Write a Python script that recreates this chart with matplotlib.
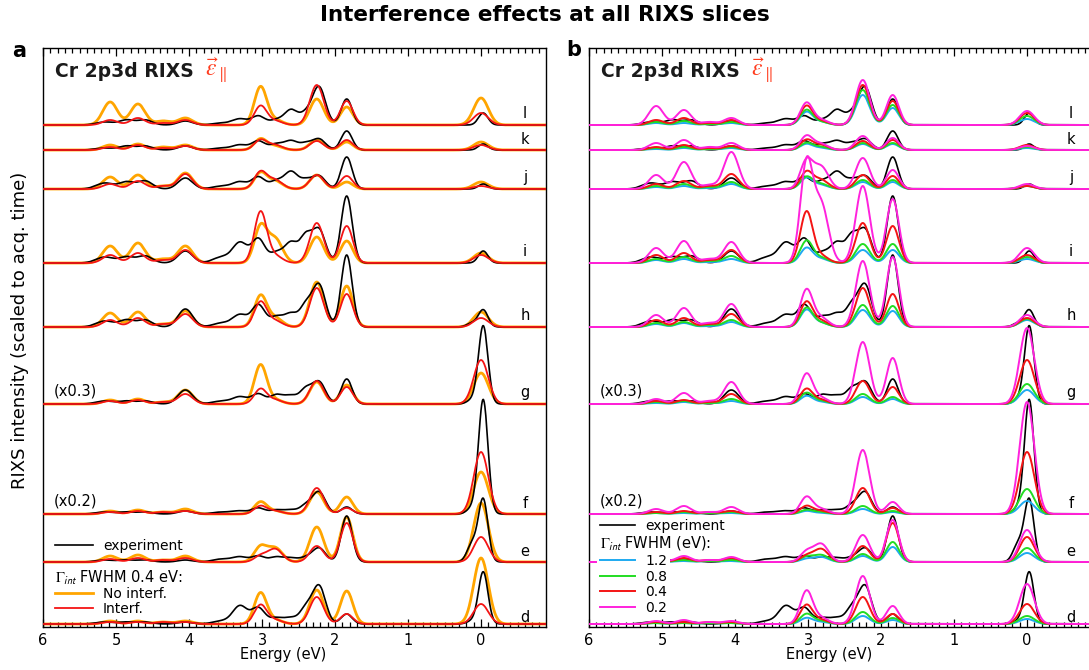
import numpy as np
import matplotlib
matplotlib.use('Agg')
import matplotlib.pyplot as plt
from matplotlib.lines import Line2D
from matplotlib.ticker import MultipleLocator

plt.rcParams['font.family'] = ['DejaVu Sans']
plt.rcParams['mathtext.fontset'] = 'stix'

# ---------------- data (intensities in plotted units) -------------
slices = ['l', 'k', 'j', 'i', 'h', 'g', 'f', 'e', 'd']
offsets = [502, 477, 438, 364, 300, 223, 113, 65, 3]
scale_notes = {'g': '(x0.3)', 'f': '(x0.2)'}

# model peaks (energy loss, eV) and widths
model_E = [5.08, 4.70, 4.35, 4.05, 3.02, 2.82, 2.25, 1.84, 0.00]
model_sigma = [0.10, 0.10, 0.10, 0.10, 0.085, 0.10, 0.095, 0.085, 0.10]

# experiment features
exp_E = [5.15, 4.85, 4.60, 4.05, 3.55, 3.30, 3.05, 2.80, 2.60, 2.40, 2.22, 1.84, 0.12, -0.03]
exp_sigma = [0.12, 0.10, 0.10, 0.10, 0.12, 0.10, 0.09, 0.09, 0.09, 0.08, 0.09, 0.075, 0.07, 0.065]

exp_amp = [
    [3, 5, 5, 4, 2, 6, 9, 5, 15, 10, 38, 26, 0, 12],    # l
    [2, 4, 4, 4, 2, 5, 9, 6, 9, 6, 11, 19, 0, 6],       # k
    [6, 7, 8, 11, 3, 7, 12, 8, 17, 8, 13, 32, 0, 5],    # j
    [6, 6, 7, 12, 6, 20, 24, 10, 20, 25, 33, 67, 0, 12],  # i
    [6, 7, 7, 18, 4, 12, 22, 10, 13, 20, 42, 72, 4, 17],  # h
    [3, 3, 3, 14, 3, 7, 10, 9, 8, 14, 22, 25, 4, 78],   # g
    [2, 2, 2, 3, 2, 3, 6, 4, 4, 8, 22, 7, 6, 114],      # f
    [2, 2, 2, 2, 3, 5, 6, 5, 4, 4, 14, 46, 18, 62],     # e
    [2, 2, 2, 2, 3, 18, 16, 6, 6, 15, 38, 10, 3, 52],   # d
]

no_interf_amp = [
    [23, 21, 4, 7, 38, 5, 26, 18, 27],
    [5, 6, 3, 5, 11, 4, 10, 8, 8],
    [12, 14, 3, 16, 16, 8, 14, 7, 7],
    [17, 20, 4, 17, 36, 24, 26, 22, 10],
    [14, 15, 3, 16, 31, 9, 45, 41, 15],
    [4, 5, 2, 14, 39, 4, 22, 19, 31],
    [3, 4, 2, 5, 12, 3, 22, 17, 42],
    [6, 7, 2, 6, 15, 14, 35, 45, 59],
    [3, 3, 2, 3, 31, 4, 34, 33, 66],
]

interf_04_amp = [
    [5, 7, 2, 5, 19, 4, 40, 24, 12],
    [3, 5, 2, 4, 10, 5, 9, 10, 5],
    [5, 8, 3, 15, 17, 9, 14, 13, 3],
    [8, 10, 3, 13, 51, 7, 40, 37, 8],
    [7, 9, 3, 13, 25, 6, 39, 33, 9],
    [3, 4, 2, 10, 15, 4, 23, 17, 44],
    [2, 3, 2, 3, 8, 3, 26, 6, 62],
    [3, 4, 2, 4, 6, 13, 16, 39, 25],
    [2, 2, 2, 2, 19, 4, 27, 10, 20],
]

interf_02_amp = [
    [19, 15, 3, 7, 22, 5, 45, 30, 14],
    [7, 10, 3, 7, 14, 6, 14, 12, 4],
    [14, 27, 4, 37, 28, 22, 31, 19, 5],
    [15, 22, 4, 21, 98, 58, 77, 64, 15],
    [12, 19, 4, 23, 37, 9, 66, 70, 12],
    [5, 11, 3, 22, 30, 6, 62, 46, 76],
    [5, 8, 2, 7, 17, 5, 64, 12, 112],
    [5, 6, 2, 5, 10, 18, 27, 42, 32],
    [3, 4, 2, 3, 33, 6, 48, 18, 40],
]

interf_08_amp = [
    [3, 4, 1, 3, 15, 3, 35, 20, 9],
    [2, 3, 1, 3, 7, 3, 7, 7, 3],
    [3, 5, 2, 7, 12, 5, 9, 9, 3],
    [4, 6, 2, 7, 22, 5, 19, 19, 6],
    [4, 5, 2, 7, 19, 4, 22, 21, 8],
    [2, 3, 1, 5, 11, 3, 10, 7, 20],
    [1, 2, 1, 2, 4, 2, 8, 3, 25],
    [2, 2, 1, 2, 5, 7, 8, 20, 14],
    [1, 1, 1, 1, 10, 3, 12, 6, 8],
]

interf_12_amp = [
    [2, 2, 1, 2, 13, 3, 30, 17, 6],
    [1, 2, 1, 2, 6, 2, 6, 6, 2],
    [2, 3, 1, 5, 11, 4, 7, 7, 3],
    [3, 4, 1, 4, 15, 4, 13, 13, 4],
    [3, 4, 1, 5, 17, 4, 17, 16, 7],
    [1, 2, 1, 3, 8, 2, 7, 5, 14],
    [1, 1, 1, 1, 3, 1, 5, 2, 13],
    [1, 1, 1, 1, 3, 5, 6, 15, 9],
    [1, 1, 1, 1, 6, 2, 8, 4, 5],
]

fwhm_labels = ['1.2', '0.8', '0.4', '0.2']

# ---------------- styles ----------------
C_EXP = 'black'
C_NOI = '#ffa500'
C_RED = '#f41414'
C_CYAN = '#1eaaf0'
C_GREEN = '#22dd22'
C_MAG = '#ff22dd'
C_EPS = '#ff3c1e'

energy = np.linspace(-0.95, 6.05, 1600)


def spectrum(centers, sigmas, amps):
    c = np.asarray(centers)[:, None]
    s = np.asarray(sigmas)[:, None]
    a = np.asarray(amps, dtype=float)[:, None]
    return (a * np.exp(-0.5 * ((energy[None, :] - c) / s) ** 2)).sum(axis=0)


fig = plt.figure(figsize=(10.89, 6.70), dpi=100)
W, H = 1089.0, 670.0
ax_a = fig.add_axes([43 / W, 1 - 627 / H, 503 / W, 579 / H])
ax_b = fig.add_axes([589 / W, 1 - 627 / H, 503 / W, 579 / H])

for ax in (ax_a, ax_b):
    ax.set_xlim(6.0, -0.89)
    ax.set_ylim(0, 579)
    ax.set_yticks([])
    ax.xaxis.set_major_locator(MultipleLocator(1))
    ax.xaxis.set_minor_locator(MultipleLocator(0.1))
    ax.tick_params(axis='x', which='both', direction='in', top=True, bottom=True,
                   labelsize=10.5, width=0.9)
    ax.tick_params(axis='x', which='major', length=6, pad=4)
    ax.tick_params(axis='x', which='minor', length=3.5)
    for sp in ax.spines.values():
        sp.set_linewidth(1.0)
    ax.set_xlabel('Energy (eV)', fontsize=10.5, labelpad=2)
    ax.xaxis.set_label_coords(0.477, -0.035, transform=ax.transAxes)
    ax.text(0.023, 0.959, 'Cr 2p3d RIXS', transform=ax.transAxes, fontsize=13.5,
            fontweight='bold', ha='left', va='center', color='#1a1a1a')
    ax.text(0.322, 0.962, r'$\vec{\varepsilon}_{\parallel}$', transform=ax.transAxes,
            fontsize=17, color=C_EPS, ha='left', va='center')

for i, name in enumerate(slices):
    off = offsets[i]
    exp_curve = spectrum(exp_E, exp_sigma, exp_amp[i])
    noi = spectrum(model_E, model_sigma, no_interf_amp[i])
    r04 = spectrum(model_E, model_sigma, interf_04_amp[i])
    r02 = spectrum(model_E, model_sigma, interf_02_amp[i])
    r08 = spectrum(model_E, model_sigma, interf_08_amp[i])
    r12 = spectrum(model_E, model_sigma, interf_12_amp[i])

    # panel a
    ax_a.plot(energy, off + noi, color=C_NOI, lw=2.0, zorder=2)
    ax_a.plot(energy, off + exp_curve, color=C_EXP, lw=1.2, zorder=3)
    ax_a.plot(energy, off + r04, color=C_RED, lw=1.3, zorder=4)

    # panel b
    ax_b.plot(energy, off + exp_curve, color=C_EXP, lw=1.2, zorder=2)
    ax_b.plot(energy, off + r12, color=C_CYAN, lw=1.4, zorder=3)
    ax_b.plot(energy, off + r08, color=C_GREEN, lw=1.4, zorder=3)
    ax_b.plot(energy, off + r04, color=C_RED, lw=1.4, zorder=3)
    ax_b.plot(energy, off + r02, color=C_MAG, lw=1.4, zorder=3)

    dy = 7 if name == 'd' else 11
    for ax in (ax_a, ax_b):
        ax.text(-0.6, off + dy, name, ha='center', va='center', fontsize=10.5)
        if name in scale_notes:
            ax.text(5.85, off + 13, scale_notes[name], ha='left', va='center', fontsize=10.5)

# ---------------- legends ----------------
leg_kw = dict(fontsize=10, borderaxespad=0, handletextpad=0.75, labelspacing=0.1)

la1 = ax_a.legend(handles=[Line2D([], [], color=C_EXP, lw=1.2, label='experiment')],
                  loc='center left', bbox_to_anchor=(0.0239, 0.140), frameon=False,
                  borderpad=0, handlelength=2.7, **leg_kw)
ax_a.add_artist(la1)
ax_a.text(0.0239, 0.0855, r'$\Gamma_{\mathsf{int}}$ FWHM 0.4 eV:', transform=ax_a.transAxes,
          fontsize=10.5, ha='left', va='center')
ax_a.legend(handles=[Line2D([], [], color=C_NOI, lw=2.0, label='No interf.'),
                     Line2D([], [], color=C_RED, lw=1.3, label='Interf.')],
            loc='center left', bbox_to_anchor=(0.0239, 0.0440), frameon=False,
            borderpad=0, handlelength=2.7, **leg_kw)

lb1 = ax_b.legend(handles=[Line2D([], [], color=C_EXP, lw=1.2, label='experiment')],
                  loc='center left', bbox_to_anchor=(0.0219, 0.1745), frameon=False,
                  borderpad=0, handlelength=2.5, **leg_kw)
ax_b.add_artist(lb1)
ax_b.text(0.0219, 0.1451, r'$\Gamma_{\mathsf{int}}$ FWHM (eV):', transform=ax_b.transAxes,
          fontsize=10.5, ha='left', va='center', zorder=6)
lb2 = ax_b.legend(handles=[Line2D([], [], color=c, lw=1.4, label=t) for c, t in
                           zip([C_CYAN, C_GREEN, C_RED, C_MAG], fwhm_labels)],
                  loc='center left', bbox_to_anchor=(0.0160, 0.0735), frameon=True,
                  facecolor='white', edgecolor='none', framealpha=1, fancybox=False,
                  borderpad=0.2, handlelength=2.5, **leg_kw)

# ---------------- figure texts ----------------
fig.text(0.5, 1 - 15 / H, 'Interference effects at all RIXS slices', ha='center', va='center',
         fontsize=15.5, fontweight='bold')
fig.text(19 / W, 1 - 51 / H, 'a', ha='center', va='center', fontsize=15, fontweight='bold')
fig.text(574 / W, 1 - 50 / H, 'b', ha='center', va='center', fontsize=15, fontweight='bold')
fig.text(20 / W, 1 - 330 / H, 'RIXS intensity (scaled to acq. time)', rotation=90,
         ha='center', va='center', fontsize=13)

fig.savefig('out.png', dpi=100)
